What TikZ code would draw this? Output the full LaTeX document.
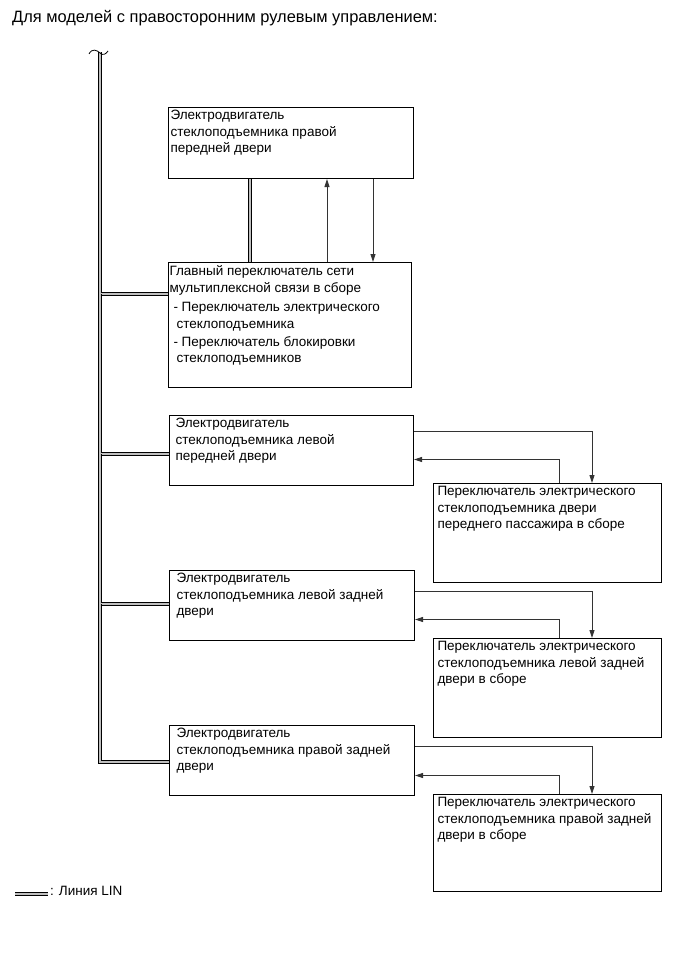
\documentclass[tikz,border=0pt]{standalone}
\usepackage{fontspec}
\setmainfont{Liberation Sans}
\usetikzlibrary{arrows.meta}

\begin{document}
\begin{tikzpicture}[x=1pt, y=-1pt,
	every node/.style={font=\fontsize{13.5}{16.5}\selectfont, inner sep=0pt},
	blk/.style={draw, line width=1pt, anchor=north west, inner xsep=3pt, inner ysep=3pt, align=left},
	lin/.style={line width=0.9pt, double=gray!50, double distance=2.4pt},
	sig/.style={draw=black!80, line width=0.9pt, -{Triangle[length=8pt,width=5pt]}}]
	\useasboundingbox (0,0) rectangle (692,953);
	\node[anchor=base west, font=\fontsize{16.4}{19}\selectfont] (title) at (12,23) {Для моделей с правосторонним рулевым управлением:};

	% blocks
	\node[blk, inner xsep=2pt] (rfm) at (168,107) {\parbox[t][65pt][t]{241pt}{Электродвигатель\\стеклоподъемника правой\\передней двери}};
	\node[blk, inner xsep=1pt] (mss) at (168,262) {\parbox[t][119pt][t]{241pt}{Главный переключатель сети\\
		мультиплексной связи в сборе\\[3pt]
		\hspace*{4pt}- Переключатель электрического\\
		\hspace*{7pt}стеклоподъемника\\[1.5pt]
		\hspace*{4pt}- Переключатель блокировки\\
		\hspace*{7pt}стеклоподъемников}};
	\node[blk, inner xsep=6pt] (lfm) at (169,415) {\parbox[t][64pt][t]{232pt}{Электродвигатель\\стеклоподъемника левой\\передней двери}};
	\node[blk, inner xsep=4pt] (fps) at (433,483) {\parbox[t][93pt][t]{220pt}{Переключатель электрического\\стеклоподъемника двери\\переднего пассажира в сборе}};
	\node[blk, inner xsep=7pt] (lrm) at (169,570) {\parbox[t][64pt][t]{231pt}{Электродвигатель\\стеклоподъемника левой задней\\двери}};
	\node[blk, inner xsep=4pt] (lrs) at (433,638) {\parbox[t][93pt][t]{220pt}{Переключатель электрического\\стеклоподъемника левой задней\\двери в сборе}};
	\node[blk, inner xsep=7pt] (rrm) at (169,725) {\parbox[t][64pt][t]{231pt}{Электродвигатель\\стеклоподъемника правой задней\\двери}};
	\node[blk, inner xsep=4pt] (rrs) at (433,794) {\parbox[t][91pt][t]{220pt}{Переключатель электрического\\стеклоподъемника правой задней\\двери в сборе}};

	% LIN bus
	\coordinate (bustop) at (100,52);
	\coordinate (j1) at (100,294);
	\coordinate (j2) at (100,454);
	\coordinate (j3) at (100,604);
	\coordinate (j4) at (100,762);
	\draw[lin] (bustop) -- (j1) -- (j1 -| mss.west);
	\draw[lin] (j1) -- (j2) -- (j2 -| lfm.west);
	\draw[lin] (j2) -- (j3) -- (j3 -| lrm.west);
	\draw[lin] (j3) -- (j4) -- (j4 -| rrm.west);
	\draw[line width=0.8pt] (89,54) .. controls (92,48) and (97,50) .. (100,53) .. controls (103,56) and (106,54) .. (108,51);

	% top pair
	\draw[lin] ([xshift=82pt]rfm.south west) -- ([xshift=82pt]rfm.south west |- mss.north);
	\draw[sig] ([xshift=159pt]mss.north west) -- ([xshift=159pt]mss.north west |- rfm.south);
	\draw[sig] ([xshift=205pt]rfm.south west) -- ([xshift=205pt]rfm.south west |- mss.north);

	% motor / switch pairs
	\foreach \m/\s/\o/\r in {lfm/fps/16/-9, lrm/lrs/21/-14, rrm/rrs/21/-15} {
		\draw[sig] ([yshift=-\o pt]\m.north east) -| ([xshift=159pt]\s.north west);
		\draw[sig] ([xshift=126pt]\s.north west) |- ([yshift=\r pt]\m.east);
	}

	% legend
	\draw[lin] (15,894) -- (48,894);
	\node[anchor=base west] (legend) at (50,895) {: Линия LIN};
\end{tikzpicture}
\end{document}
